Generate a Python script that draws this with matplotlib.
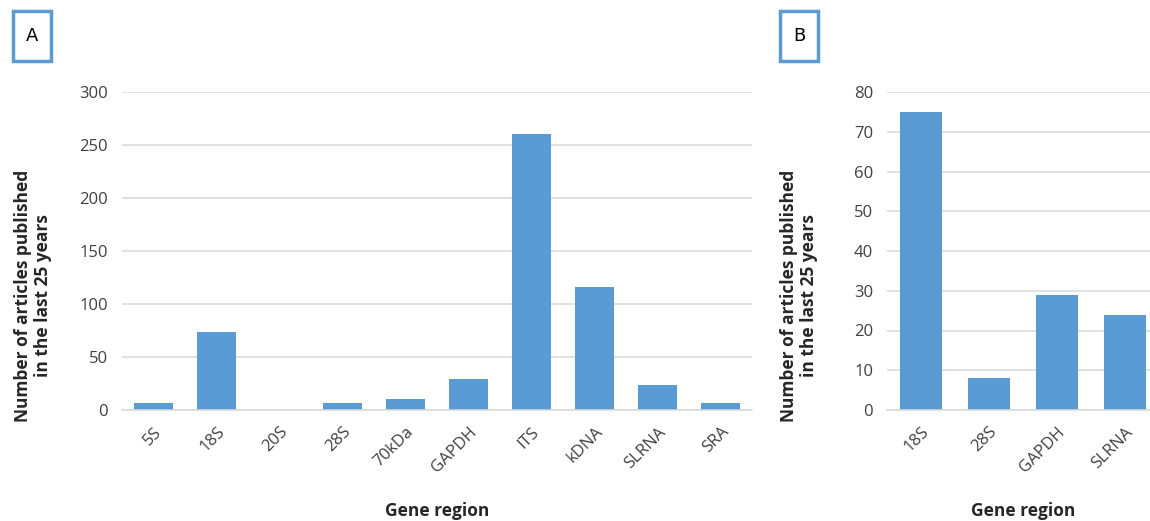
import matplotlib.pyplot as plt
from matplotlib.patches import Rectangle

plt.rcParams['font.family'] = ['Open Sans', 'DejaVu Sans']

# panel A data
genes_a = ['5S', '18S', '20S', '28S', '70kDa', 'GAPDH', 'ITS', 'kDNA', 'SLRNA', 'SRA']
counts_a = [7, 74, 0, 7, 10, 29, 260, 116, 24, 7]
yticks_a = [0, 50, 100, 150, 200, 250, 300]

# panel B data
genes_b = ['18S', '28S', 'GAPDH', 'SLRNA']
counts_b = [75, 8, 29, 24]
yticks_b = [0, 10, 20, 30, 40, 50, 60, 70, 80]

bar_color = '#5B9BD5'
grid_color = '#d9d9d9'
tick_color = '#404040'
ylab = 'Number of articles published\nin the last 25 years'

W, H = 1150, 521
fig = plt.figure(figsize=(W / 100, H / 100), dpi=100)


def style_axes(ax, ticks):
    ax.set_yticks(ticks)
    ax.set_ylim(0, ticks[-1])
    ax.grid(axis='y', color=grid_color, linewidth=1.1)
    ax.set_axisbelow(True)
    for s in ['top', 'right', 'left']:
        ax.spines[s].set_visible(False)
    ax.spines['bottom'].set_color(grid_color)
    ax.spines['bottom'].set_linewidth(1.1)
    ax.tick_params(axis='both', length=0, labelsize=12, labelcolor=tick_color, pad=10)
    plt.setp(ax.get_xticklabels(), rotation=45, ha='right', rotation_mode='anchor')
    ax.set_xlabel('Gene region', fontsize=12.5, fontweight='bold', color='#262626')


# panel A
ax1 = fig.add_axes([122 / W, (H - 410) / H, (752 - 122) / W, 318 / H])
ax1.bar(range(len(genes_a)), counts_a, width=0.63, color=bar_color)
ax1.set_xticks(range(len(genes_a)))
ax1.set_xticklabels(genes_a)
ax1.set_xlim(-0.5, len(genes_a) - 0.5)
style_axes(ax1, yticks_a)
ax1.xaxis.set_label_coords(0.5, -0.29)
fig.text(33 / W, (H - 296) / H, ylab, rotation=90, ha='center', va='center',
         fontsize=12.5, fontweight='bold', color='#262626', linespacing=1.15)

# panel B (cut at right edge, as in the source)
ax2 = fig.add_axes([887 / W, (H - 410) / H, (W - 887) / W, 318 / H])
ax2.bar(range(len(genes_b)), counts_b, width=0.63, color=bar_color)
ax2.set_xticks(range(len(genes_b)))
ax2.set_xticklabels(genes_b)
ax2.set_xlim(-0.5, -0.5 + (W - 887) / 68)
style_axes(ax2, yticks_b)
ax2.xaxis.set_label_coords((1023 - 887) / (W - 887), -0.29)
fig.text(799 / W, (H - 296) / H, ylab, rotation=90, ha='center', va='center',
         fontsize=12.5, fontweight='bold', color='#262626', linespacing=1.15)

# panel letters in boxes
for x0, letter in [(13, 'A'), (780, 'B')]:
    fig.patches.append(Rectangle((x0 / W, (H - 61) / H), 38 / W, 50 / H,
                                 transform=fig.transFigure, fill=False,
                                 edgecolor=bar_color, linewidth=2.5))
    fig.text((x0 + 19) / W, (H - 36) / H, letter, ha='center', va='center',
             fontsize=13, color='black', family=['DejaVu Sans'])

fig.savefig('out.png', dpi=100)
